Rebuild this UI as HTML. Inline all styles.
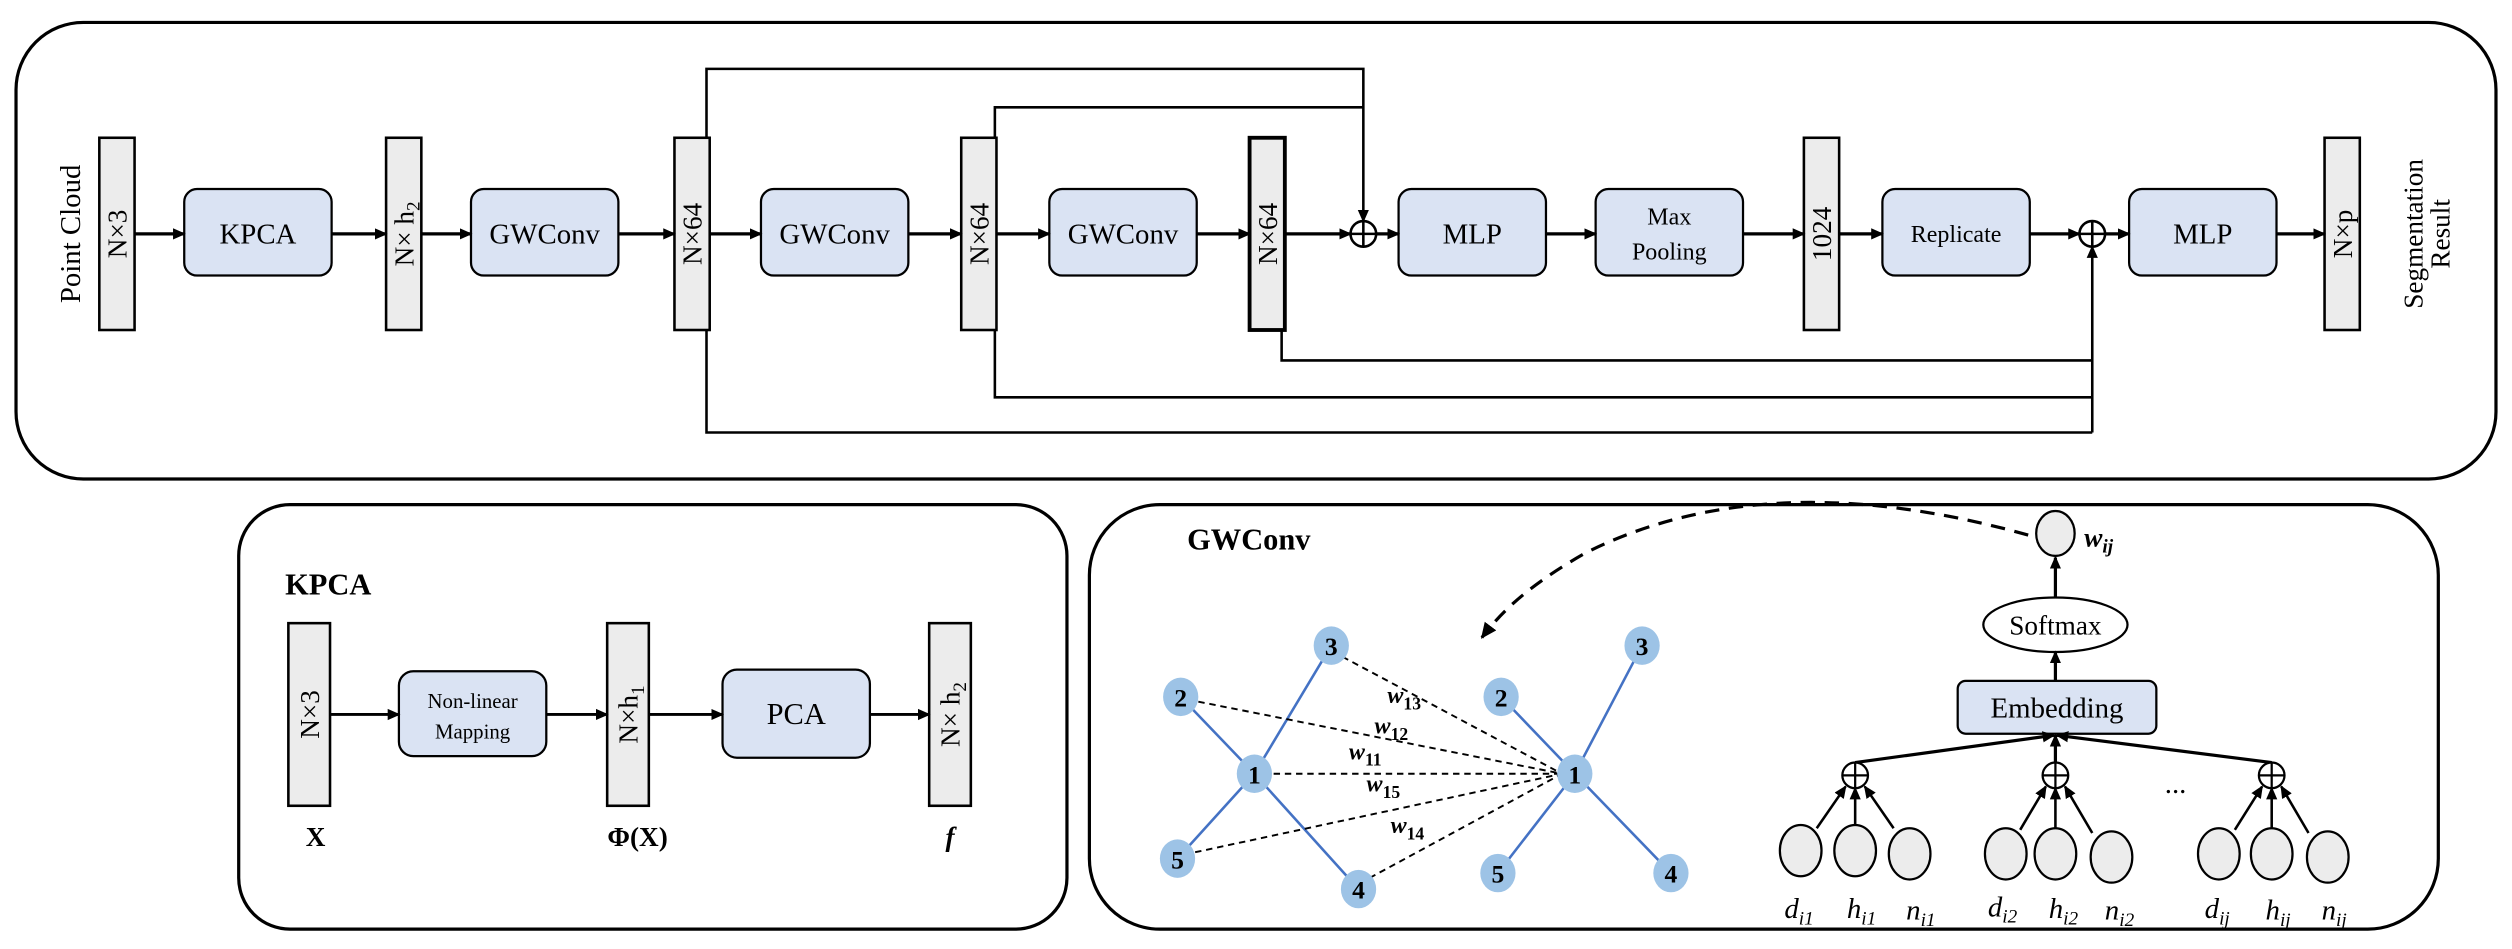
<!DOCTYPE html>
<html><head><meta charset="utf-8"><style>
html,body{margin:0;padding:0;background:#fff;}
svg{display:block;font-family:"Liberation Serif",serif;}
svg text{font-family:"Liberation Serif",serif;fill:#000;}
</style></head><body>
<svg width="2512" height="949" viewBox="0 0 1568 592.4" preserveAspectRatio="none" xmlns="http://www.w3.org/2000/svg" font-family="Liberation Serif, serif">
<defs>
<marker id="a" markerWidth="8" markerHeight="8" refX="7" refY="4" orient="auto" markerUnits="userSpaceOnUse"><path d="M0,0.5 L8,4 L0,7.5 z" fill="#000"/></marker>
<marker id="a2" markerWidth="10" markerHeight="10" refX="9" refY="5" orient="auto" markerUnits="userSpaceOnUse"><path d="M0,0.5 L10,5 L0,9.5 z" fill="#000"/></marker>
</defs>
<rect x="10" y="14" width="1548" height="285" rx="42" fill="none" stroke="#000" stroke-width="2"/>
<text transform="translate(50,146) rotate(-90)" text-anchor="middle" font-size="18">Point Cloud</text>
<text transform="translate(1512,146) rotate(-90)" text-anchor="middle" font-size="17">Segmentation</text>
<text transform="translate(1529,146) rotate(-90)" text-anchor="middle" font-size="17">Result</text>

<g stroke="#000" stroke-width="1.6" fill="#ececec">
<rect x="62" y="86" width="22" height="120"/>
<rect x="241" y="86" width="22" height="120"/>
<rect x="421" y="86" width="22" height="120"/>
<rect x="600" y="86" width="22" height="120"/>
<rect x="780" y="86" width="22" height="120" stroke-width="2.4"/>
<rect x="1126" y="86" width="22" height="120"/>
<rect x="1451" y="86" width="22" height="120"/>
</g>
<g font-size="17" text-anchor="middle">
<text transform="translate(79,146) rotate(-90)">N×3</text>
<text transform="translate(258,146) rotate(-90)">N× h<tspan font-size="12" dy="4">2</tspan></text>
<text transform="translate(438,146) rotate(-90)">N×64</text>
<text transform="translate(617,146) rotate(-90)">N×64</text>
<text transform="translate(797,146) rotate(-90)">N×64</text>
<text transform="translate(1143,146) rotate(-90)">1024</text>
<text transform="translate(1468,146) rotate(-90)">N×p</text>
</g>
<g stroke="#000" stroke-width="1.4" fill="#dae3f3">
<rect x="115" y="118" width="92" height="54" rx="8"/>
<rect x="294" y="118" width="92" height="54" rx="8"/>
<rect x="475" y="118" width="92" height="54" rx="8"/>
<rect x="655" y="118" width="92" height="54" rx="8"/>
<rect x="873" y="118" width="92" height="54" rx="8"/>
<rect x="996" y="118" width="92" height="54" rx="8"/>
<rect x="1175" y="118" width="92" height="54" rx="8"/>
<rect x="1329" y="118" width="92" height="54" rx="8"/>
</g>
<g font-size="18" text-anchor="middle">
<text x="161" y="152">KPCA</text>
<text x="340" y="152">GWConv</text>
<text x="521" y="152">GWConv</text>
<text x="701" y="152">GWConv</text>
<text x="919" y="152">MLP</text>
<text x="1042" y="140" font-size="15">Max</text>
<text x="1042" y="162" font-size="15">Pooling</text>
<text x="1221" y="151" font-size="15">Replicate</text>
<text x="1375" y="152">MLP</text>
</g>
<g stroke="#000" stroke-width="2" marker-end="url(#a)" fill="none">
<line x1="84" y1="146" x2="115" y2="146"/>
<line x1="207" y1="146" x2="241" y2="146"/>
<line x1="263" y1="146" x2="294" y2="146"/>
<line x1="386" y1="146" x2="421" y2="146"/>
<line x1="443" y1="146" x2="475" y2="146"/>
<line x1="567" y1="146" x2="600" y2="146"/>
<line x1="622" y1="146" x2="655" y2="146"/>
<line x1="747" y1="146" x2="780" y2="146"/>
<line x1="802" y1="146" x2="843" y2="146"/>
<line x1="859" y1="146" x2="873" y2="146"/>
<line x1="965" y1="146" x2="996" y2="146"/>
<line x1="1088" y1="146" x2="1126" y2="146"/>
<line x1="1148" y1="146" x2="1175" y2="146"/>
<line x1="1267" y1="146" x2="1298" y2="146"/>
<line x1="1314" y1="146" x2="1329" y2="146"/>
<line x1="1421" y1="146" x2="1451" y2="146"/>
</g>
<g stroke="#000" stroke-width="1.6" fill="none">
<circle cx="851" cy="146" r="8" fill="#fff"/><line x1="843" y1="146" x2="859" y2="146"/><line x1="851" y1="138" x2="851" y2="154"/>
<circle cx="1306" cy="146" r="8" fill="#fff"/><line x1="1298" y1="146" x2="1314" y2="146"/><line x1="1306" y1="138" x2="1306" y2="154"/>
<polyline points="441,86 441,43 851,43 851,138" marker-end="url(#a)"/>
<polyline points="621,86 621,67 851,67"/>
<polyline points="441,206 441,270 1306,270"/>
<polyline points="621,206 621,248 1306,248"/>
<polyline points="800,206 800,225 1306,225"/>
<line x1="1306" y1="270" x2="1306" y2="154" marker-end="url(#a)"/>
</g>

<rect x="149" y="315" width="517" height="265" rx="32" fill="none" stroke="#000" stroke-width="2"/>
<text x="178" y="371" font-size="19" font-weight="bold">KPCA</text>
<g stroke="#000" stroke-width="1.6" fill="#ececec">
<rect x="180" y="389" width="26" height="114"/>
<rect x="379" y="389" width="26" height="114"/>
<rect x="580" y="389" width="26" height="114"/>
</g>
<g stroke="#000" stroke-width="1.4" fill="#dae3f3">
<rect x="249" y="419" width="92" height="53" rx="9"/>
<rect x="451" y="418" width="92" height="55" rx="9"/>
</g>
<g font-size="17" text-anchor="middle">
<text transform="translate(199,446) rotate(-90)">N×3</text>
<text transform="translate(398,446) rotate(-90)">N×h<tspan font-size="12" dy="4">1</tspan></text>
<text transform="translate(599,446) rotate(-90)">N× h<tspan font-size="12" dy="4">2</tspan></text>
<text x="295" y="442" font-size="13">Non-linear</text>
<text x="295" y="461" font-size="13">Mapping</text>
<text x="497" y="452" font-size="19">PCA</text>
<text x="197" y="528" font-weight="bold">X</text>
<text x="398" y="528" font-weight="bold">Φ(X)</text>
<text x="593" y="528" font-weight="bold" font-style="italic">f</text>
</g>
<g stroke="#000" stroke-width="1.8" marker-end="url(#a)">
<line x1="206" y1="446" x2="249" y2="446"/>
<line x1="341" y1="446" x2="379" y2="446"/>
<line x1="405" y1="446" x2="451" y2="446"/>
<line x1="543" y1="446" x2="580" y2="446"/>
</g>

<rect x="680" y="315" width="842" height="265" rx="44" fill="none" stroke="#000" stroke-width="2"/>
<text x="741" y="343" font-size="19" font-weight="bold">GWConv</text>
<path d="M1266,334 C1180,310 1080,300 990,345 C960,362 940,378 925,398" fill="none" stroke="#000" stroke-width="2" stroke-dasharray="9,6" marker-end="url(#a2)"/>
<g stroke="#4472c4" stroke-width="1.6">
<line x1="737" y1="435" x2="783" y2="483"/><line x1="831" y1="403" x2="783" y2="483"/>
<line x1="735" y1="536" x2="783" y2="483"/><line x1="848" y1="555" x2="783" y2="483"/>
<line x1="937" y1="435" x2="983" y2="483"/><line x1="1025" y1="403" x2="983" y2="483"/>
<line x1="935" y1="545" x2="983" y2="483"/><line x1="1043" y1="545" x2="983" y2="483"/>
</g>
<g stroke="#000" stroke-width="1.2" stroke-dasharray="4,3">
<line x1="795" y1="483" x2="975" y2="483"/>
<line x1="748" y1="438" x2="975" y2="483"/>
<line x1="838" y1="410" x2="975" y2="483"/>
<line x1="746" y1="532" x2="975" y2="483"/>
<line x1="855" y1="548" x2="975" y2="483"/>
</g>
<g fill="#9dc3e6">
<ellipse cx="831" cy="403" rx="11" ry="12"/><ellipse cx="737" cy="435" rx="11" ry="12"/>
<ellipse cx="783" cy="483" rx="11" ry="12"/><ellipse cx="735" cy="536" rx="11" ry="12"/>
<ellipse cx="848" cy="555" rx="11" ry="12"/>
<ellipse cx="1025" cy="403" rx="11" ry="12"/><ellipse cx="937" cy="435" rx="11" ry="12"/>
<ellipse cx="983" cy="483" rx="11" ry="12"/><ellipse cx="935" cy="545" rx="11" ry="12"/>
<ellipse cx="1043" cy="545" rx="11" ry="12"/>
</g>
<g font-size="16" font-weight="bold" text-anchor="middle">
<text x="831" y="409">3</text><text x="737" y="441">2</text><text x="783" y="489">1</text><text x="735" y="542">5</text><text x="848" y="561">4</text>
<text x="1025" y="409">3</text><text x="937" y="441">2</text><text x="983" y="489">1</text><text x="935" y="551">5</text><text x="1043" y="551">4</text>
</g>
<g font-size="15" font-style="italic" font-weight="bold">
<text x="866" y="439">w<tspan font-size="11" dy="4" font-style="normal">13</tspan></text>
<text x="858" y="458">w<tspan font-size="11" dy="4" font-style="normal">12</tspan></text>
<text x="842" y="474">w<tspan font-size="11" dy="4" font-style="normal">11</tspan></text>
<text x="853" y="494">w<tspan font-size="11" dy="4" font-style="normal">15</tspan></text>
<text x="868" y="520">w<tspan font-size="11" dy="4" font-style="normal">14</tspan></text>
</g>
<g stroke="#000" stroke-width="1.4">
<ellipse cx="1283" cy="333" rx="12" ry="14" fill="#ececec"/>
<ellipse cx="1283" cy="390" rx="45" ry="17" fill="#fff"/>
<rect x="1222" y="425" width="124" height="33" rx="5" fill="#dae3f3"/>
</g>
<text x="1301" y="341" font-size="17" font-style="italic" font-weight="bold">w<tspan font-size="12" dy="4">ij</tspan></text>
<text x="1283" y="396" font-size="17" text-anchor="middle">Softmax</text>
<text x="1284" y="448" font-size="18" text-anchor="middle">Embedding</text>
<g stroke="#000" stroke-width="2" marker-end="url(#a)">
<line x1="1283" y1="373" x2="1283" y2="348"/>
<line x1="1283" y1="425" x2="1283" y2="407"/>
<line x1="1158" y1="476" x2="1282" y2="459"/>
<line x1="1283" y1="476" x2="1283" y2="459"/>
<line x1="1418" y1="476" x2="1284" y2="459"/>
</g>
<g font-size="18" text-anchor="middle"><text x="1358" y="495">...</text></g>
<g stroke="#000" stroke-width="1.4">
<g fill="#fff">
<circle cx="1158" cy="484" r="8"/><circle cx="1283" cy="484" r="8"/><circle cx="1418" cy="484" r="8"/>
</g>
<line x1="1150" y1="484" x2="1166" y2="484"/><line x1="1158" y1="476" x2="1158" y2="492"/>
<line x1="1275" y1="484" x2="1291" y2="484"/><line x1="1283" y1="476" x2="1283" y2="492"/>
<line x1="1410" y1="484" x2="1426" y2="484"/><line x1="1418" y1="476" x2="1418" y2="492"/>
<g fill="#ececec">
<ellipse cx="1124" cy="531" rx="13" ry="16"/><ellipse cx="1158" cy="531" rx="13" ry="16"/><ellipse cx="1192" cy="533" rx="13" ry="16"/>
<ellipse cx="1252" cy="533" rx="13" ry="16"/><ellipse cx="1283" cy="533" rx="13" ry="16"/><ellipse cx="1318" cy="535" rx="13" ry="16"/>
<ellipse cx="1385" cy="533" rx="13" ry="16"/><ellipse cx="1418" cy="533" rx="13" ry="16"/><ellipse cx="1453" cy="535" rx="13" ry="16"/>
</g>
</g>
<g stroke="#000" stroke-width="1.6" marker-end="url(#a)">
<line x1="1134" y1="517" x2="1152" y2="491"/><line x1="1158" y1="515" x2="1158" y2="492"/><line x1="1182" y1="517" x2="1164" y2="491"/>
<line x1="1261" y1="518" x2="1277" y2="491"/><line x1="1283" y1="517" x2="1283" y2="492"/><line x1="1306" y1="520" x2="1289" y2="491"/>
<line x1="1395" y1="518" x2="1412" y2="491"/><line x1="1418" y1="517" x2="1418" y2="492"/><line x1="1441" y1="520" x2="1424" y2="491"/>
</g>
<g font-size="18" font-style="italic" text-anchor="middle">
<text x="1123" y="573">d<tspan font-size="12" dy="4">i1</tspan></text>
<text x="1162" y="573">h<tspan font-size="12" dy="4">i1</tspan></text>
<text x="1199" y="574">n<tspan font-size="12" dy="4">i1</tspan></text>
<text x="1250" y="572">d<tspan font-size="12" dy="4">i2</tspan></text>
<text x="1288" y="573">h<tspan font-size="12" dy="4">i2</tspan></text>
<text x="1323" y="574">n<tspan font-size="12" dy="4">i2</tspan></text>
<text x="1384" y="573">d<tspan font-size="12" dy="4">ij</tspan></text>
<text x="1422" y="574">h<tspan font-size="12" dy="4">ij</tspan></text>
<text x="1457" y="574">n<tspan font-size="12" dy="4">ij</tspan></text>
</g>
</svg>
</body></html>
